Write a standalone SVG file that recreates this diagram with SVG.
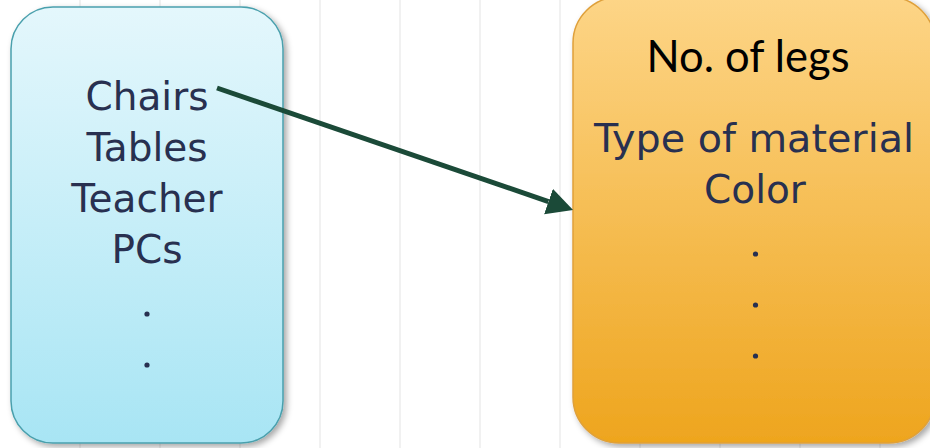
<svg xmlns="http://www.w3.org/2000/svg" width="930" height="448" viewBox="0 0 930 448">
  <style>
    .grid line { stroke: #ececec; stroke-width: 1.5; }
    .hand { font-family: "Comic Sans MS", "DejaVu Sans", sans-serif; font-size: 39px; fill: #283050; text-anchor: middle; }
    .plain { font-family: Lato, "Liberation Sans", sans-serif; font-size: 43.5px; fill: #000; text-anchor: middle; }
    .dot { fill: #283050; }
    .link { stroke: #1b4a38; stroke-width: 5; fill: none; }
  </style>
  <defs>
    <linearGradient id="blueFill" x1="0" y1="0" x2="0" y2="1">
      <stop offset="0" stop-color="#e4f7fc"/>
      <stop offset="1" stop-color="#a8e5f4"/>
    </linearGradient>
    <linearGradient id="orangeFill" x1="0" y1="0" x2="0" y2="1">
      <stop offset="0" stop-color="#fdd587"/>
      <stop offset="1" stop-color="#eea51e"/>
    </linearGradient>
    <filter id="shadow" x="-10%" y="-10%" width="125%" height="125%">
      <feDropShadow dx="3" dy="3" stdDeviation="3" flood-color="#000" flood-opacity="0.35"/>
    </filter>
    <marker id="head" markerUnits="userSpaceOnUse" markerWidth="28" markerHeight="28" refX="0" refY="13.5" orient="auto">
      <path d="M0,0 L26,13.5 L0,27 z" fill="#1b4a38"/>
    </marker>
  </defs>

  <rect width="930" height="448" fill="#fff"/>
  <g class="grid">
    <line x1="80" y1="0" x2="80" y2="448"/>
    <line x1="160" y1="0" x2="160" y2="448"/>
    <line x1="240" y1="0" x2="240" y2="448"/>
    <line x1="320" y1="0" x2="320" y2="448"/>
    <line x1="400" y1="0" x2="400" y2="448"/>
    <line x1="480" y1="0" x2="480" y2="448"/>
    <line x1="560" y1="0" x2="560" y2="448"/>
    <line x1="640" y1="0" x2="640" y2="448"/>
    <line x1="720" y1="0" x2="720" y2="448"/>
    <line x1="800" y1="0" x2="800" y2="448"/>
    <line x1="880" y1="0" x2="880" y2="448"/>
  </g>

  <!-- objects list -->
  <g id="objects">
    <rect x="11" y="7" width="272" height="436" rx="42" fill="url(#blueFill)" stroke="#4aa0ad" stroke-width="1.5" filter="url(#shadow)"/>
    <text class="hand" x="147" y="110">Chairs</text>
    <text class="hand" x="147" y="161">Tables</text>
    <text class="hand" x="147" y="212">Teacher</text>
    <text class="hand" x="147" y="263">PCs</text>
    <circle class="dot" cx="147" cy="314" r="2.6"/>
    <circle class="dot" cx="147" cy="365" r="2.6"/>
  </g>

  <!-- attributes list -->
  <g id="attributes">
    <rect x="573" y="-3" width="362" height="446" rx="46" fill="url(#orangeFill)" stroke="#dfa03a" stroke-width="1.5" filter="url(#shadow)"/>
    <text class="plain" x="748" y="72">No. of legs</text>
    <text class="hand" x="754" y="152" textLength="320" lengthAdjust="spacingAndGlyphs">Type of material</text>
    <text class="hand" x="755" y="203">Color</text>
    <circle class="dot" cx="755.5" cy="254" r="2.6"/>
    <circle class="dot" cx="755.5" cy="305" r="2.6"/>
    <circle class="dot" cx="755.5" cy="356" r="2.6"/>
  </g>

  <g id="connectors">
    <line class="link" x1="217" y1="88" x2="548.5" y2="201.6" marker-end="url(#head)"/>
  </g>
</svg>
